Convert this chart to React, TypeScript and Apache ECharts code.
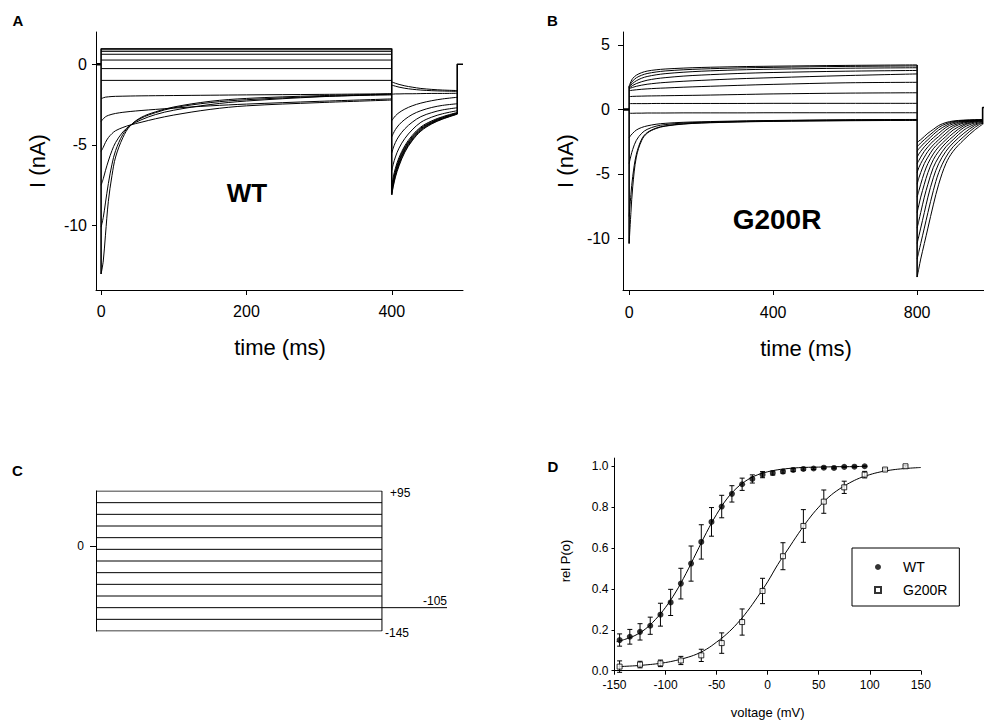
import { useEffect, useRef } from "react";
import * as echarts from "echarts";

const FONT = "'Liberation Sans', Arial, Helvetica, sans-serif";

// ---------- Panel A (WT currents) ----------
const wtVoltages = [95, 75, 55, 35, 15, -5, -25, -45, -65, -85, -105, -125, -145];
const wtFlatLevels = [0.97, 0.9, 0.8, 0.62, 0.26, -0.27, -1.0]; // +95 ... -25 mV
const wtStepTimes = [0, 3, 6, 10, 15, 20, 30, 40, 55, 75, 100, 150, 200, 300, 400];
const wtStepM45 = [-2.15, -2.08, -2.04, -2.02, -2.0, -1.99, -1.98, -1.97, -1.96, -1.95, -1.94, -1.92, -1.9, -1.87, -1.83];
const wtStepM65 = [-3.55, -3.38, -3.26, -3.17, -3.1, -3.05, -2.98, -2.93, -2.87, -2.8, -2.72, -2.58, -2.47, -2.3, -2.15];
const wtStepM85 = [-5.4, -5.15, -4.85, -4.55, -4.3, -4.12, -3.92, -3.77, -3.6, -3.38, -3.15, -2.8, -2.58, -2.38, -2.22];
const wtStepM105 = [-7.5, -7.1, -6.6, -6.0, -5.35, -4.85, -4.2, -3.8, -3.45, -3.12, -2.85, -2.5, -2.28, -2.02, -1.85];
const wtStepM125 = [-10.1, -9.5, -8.6, -7.4, -6.2, -5.35, -4.35, -3.8, -3.35, -3.0, -2.7, -2.38, -2.2, -2.0, -1.9];
const wtStepM145 = [-13.0, -12.2, -10.6, -8.5, -6.9, -5.75, -4.55, -3.82, -3.3, -2.95, -2.65, -2.3, -2.12, -1.95, -1.85];

const wtTailTimes = [400, 402, 405, 410, 418, 428, 440, 455, 470, 490];
const wtTailP95 = [-8.1, -7.6, -7.0, -6.3, -5.45, -4.75, -4.15, -3.7, -3.4, -3.1];
const wtTailP75 = [-8.0, -7.5, -6.9, -6.2, -5.38, -4.7, -4.1, -3.67, -3.38, -3.08];
const wtTailP55 = [-7.9, -7.4, -6.8, -6.1, -5.3, -4.63, -4.05, -3.63, -3.35, -3.06];
const wtTailP35 = [-7.8, -7.3, -6.7, -6.0, -5.22, -4.56, -4.0, -3.6, -3.32, -3.04];
const wtTailP15 = [-7.7, -7.2, -6.6, -5.9, -5.14, -4.5, -3.95, -3.56, -3.29, -3.02];
const wtTailM5 = [-7.5, -7.0, -6.45, -5.78, -5.05, -4.42, -3.89, -3.51, -3.25, -2.99];
const wtTailM25 = [-6.6, -6.2, -5.75, -5.2, -4.6, -4.07, -3.6, -3.28, -3.07, -2.88];
const wtTailM45 = [-5.5, -5.2, -4.85, -4.45, -4.0, -3.6, -3.25, -3.0, -2.83, -2.7];
const wtTailM65 = [-4.5, -4.3, -4.05, -3.75, -3.42, -3.12, -2.88, -2.68, -2.55, -2.45];
const wtTailM85 = [-3.5, -3.37, -3.2, -3.0, -2.78, -2.58, -2.41, -2.26, -2.15, -2.05];
const wtTailM105 = [-1.85, -1.85, -1.84, -1.84, -1.83, -1.83, -1.82, -1.81, -1.81, -1.8];
const wtTailM125 = [-1.3, -1.32, -1.36, -1.42, -1.49, -1.55, -1.6, -1.64, -1.66, -1.68];
const wtTailM145 = [-1.1, -1.13, -1.18, -1.25, -1.34, -1.42, -1.5, -1.56, -1.6, -1.63];
const wtTailEnd = 490; // return to holding (ms)

// ---------- Panel B (G200R currents) ----------
const mutStepTimes = [0, 5, 10, 20, 35, 50, 75, 100, 150, 200, 300, 400, 600, 800];
const mutStepP95 = [1.8, 2.15, 2.4, 2.65, 2.85, 2.97, 3.07, 3.13, 3.2, 3.25, 3.31, 3.35, 3.41, 3.45];
const mutStepP75 = [1.75, 2.0, 2.2, 2.45, 2.65, 2.78, 2.9, 2.98, 3.07, 3.13, 3.21, 3.26, 3.33, 3.37];
const mutStepP55 = [1.7, 1.88, 2.02, 2.22, 2.42, 2.55, 2.68, 2.77, 2.88, 2.96, 3.06, 3.12, 3.19, 3.23];
const mutStepP35 = [1.65, 1.76, 1.86, 2.0, 2.15, 2.26, 2.38, 2.46, 2.58, 2.66, 2.78, 2.86, 2.96, 3.02];
const mutStepP15 = [1.6, 1.66, 1.71, 1.79, 1.88, 1.95, 2.03, 2.09, 2.18, 2.25, 2.37, 2.46, 2.62, 2.75];
const mutStepM5 = [1.45, 1.47, 1.49, 1.52, 1.56, 1.59, 1.63, 1.66, 1.72, 1.77, 1.86, 1.94, 2.06, 2.1];
const mutStepM25 = [1.0, 1.0, 1.01, 1.02, 1.03, 1.04, 1.05, 1.06, 1.08, 1.1, 1.15, 1.2, 1.26, 1.29];
const mutStepM45 = [0.45, 0.45, 0.45, 0.45, 0.45, 0.45, 0.46, 0.46, 0.46, 0.46, 0.46, 0.47, 0.47, 0.47];
const mutStepM65 = [-0.3, -0.3, -0.3, -0.29, -0.29, -0.28, -0.28, -0.28, -0.27, -0.27, -0.27, -0.26, -0.26, -0.26];
const mutStepM85 = [-2.2, -2.0, -1.85, -1.6, -1.4, -1.28, -1.15, -1.08, -1.0, -0.96, -0.9, -0.86, -0.8, -0.78];
const mutStepM105 = [-4.2, -3.6, -3.1, -2.4, -1.85, -1.55, -1.3, -1.18, -1.06, -1.0, -0.93, -0.88, -0.83, -0.8];
const mutStepM125 = [-8.3, -6.6, -5.2, -3.5, -2.3, -1.8, -1.45, -1.28, -1.12, -1.04, -0.96, -0.91, -0.86, -0.83];
const mutStepM145 = [-10.4, -8.0, -6.0, -3.7, -2.4, -1.85, -1.48, -1.3, -1.14, -1.06, -0.98, -0.93, -0.88, -0.85];

const mutTailTimes = [800, 805, 810, 820, 830, 845, 860, 880, 900, 930, 960, 982];
const mutTailP95 = [-13.0, -12.3, -11.6, -10.4, -9.2, -7.4, -5.8, -4.2, -3.25, -2.35, -1.6, -1.15];
const mutTailP75 = [-11.6, -11.0, -10.4, -9.2, -8.0, -6.3, -4.9, -3.7, -2.9, -2.1, -1.4, -1.05];
const mutTailP55 = [-10.4, -9.8, -9.2, -8.0, -6.8, -5.3, -4.2, -3.25, -2.6, -1.85, -1.25, -1.0];
const mutTailP35 = [-9.2, -8.6, -8.0, -6.8, -5.8, -4.5, -3.7, -2.9, -2.35, -1.6, -1.15, -0.95];
const mutTailP15 = [-8.0, -7.4, -6.8, -5.8, -4.9, -3.9, -3.25, -2.6, -2.1, -1.4, -1.05, -0.92];
const mutTailM5 = [-6.8, -6.3, -5.8, -4.9, -4.2, -3.45, -2.9, -2.35, -1.85, -1.25, -0.98, -0.9];
const mutTailM25 = [-5.8, -5.3, -4.9, -4.2, -3.7, -3.05, -2.6, -2.1, -1.6, -1.15, -0.93, -0.88];
const mutTailM45 = [-4.9, -4.5, -4.2, -3.7, -3.25, -2.75, -2.35, -1.85, -1.4, -1.05, -0.9, -0.86];
const mutTailM65 = [-4.2, -3.95, -3.7, -3.25, -2.9, -2.45, -2.1, -1.6, -1.25, -0.98, -0.88, -0.84];
const mutTailM85 = [-3.7, -3.45, -3.25, -2.9, -2.6, -2.2, -1.85, -1.4, -1.12, -0.93, -0.86, -0.82];
const mutTailM105 = [-3.25, -3.05, -2.9, -2.6, -2.35, -1.95, -1.6, -1.25, -1.02, -0.9, -0.84, -0.8];
const mutTailM125 = [-2.9, -2.75, -2.6, -2.35, -2.1, -1.75, -1.4, -1.12, -0.95, -0.86, -0.82, -0.79];
const mutTailM145 = [-2.6, -2.45, -2.35, -2.1, -1.85, -1.55, -1.25, -1.02, -0.9, -0.83, -0.8, -0.78];
const mutTailEnd = 982;

// ---------- Panel C (voltage protocol) ----------
const protoLevels = [95, 75, 55, 35, 15, -5, -25, -45, -65, -85, -105, -125, -145];
const protoStepEnd = 400;
const protoTailLevel = -105;
const protoTailEnd = 491;

// ---------- Panel D (activation curves) ----------
const wtV = [-145, -135, -125, -115, -105, -95, -85, -75, -65, -55, -45, -35, -25, -15, -5, 5, 15, 25, 35, 45, 55, 65, 75, 85, 95];
const wtP = [0.15, 0.166, 0.19, 0.22, 0.274, 0.334, 0.426, 0.524, 0.63, 0.728, 0.803, 0.865, 0.912, 0.938, 0.959, 0.967, 0.974, 0.982, 0.987, 0.989, 0.993, 0.992, 0.997, 0.998, 1.0];
const wtErr = [0.03, 0.036, 0.04, 0.042, 0.056, 0.064, 0.075, 0.086, 0.084, 0.07, 0.055, 0.04, 0.03, 0.02, 0.015, 0.01, 0.008, 0.008, 0.006, 0.005, 0.004, 0.004, 0.003, 0.003, 0.002];
const mutV = [-145, -125, -105, -85, -65, -45, -25, -5, 15, 35, 55, 75, 95, 115, 135];
const mutP = [0.02, 0.03, 0.036, 0.05, 0.075, 0.135, 0.238, 0.39, 0.56, 0.708, 0.827, 0.897, 0.959, 0.984, 1.0];
const mutErr = [0.028, 0.016, 0.016, 0.02, 0.03, 0.05, 0.064, 0.062, 0.066, 0.08, 0.057, 0.03, 0.016, 0.005, 0.004];
const wtFitV = [-148, -140, -130, -120, -110, -100, -90, -80, -70, -60, -50, -40, -30, -20, -10, 0, 10, 20, 30, 40, 50, 60, 70, 80, 90, 96];
const wtFitP = [0.142, 0.153, 0.172, 0.203, 0.25, 0.31, 0.385, 0.475, 0.575, 0.675, 0.765, 0.84, 0.895, 0.933, 0.958, 0.973, 0.983, 0.989, 0.993, 0.995, 0.996, 0.997, 0.998, 0.998, 0.999, 0.999];
const mutFitV = [-146, -130, -120, -110, -100, -90, -80, -70, -60, -50, -40, -30, -20, -10, 0, 10, 20, 30, 40, 50, 60, 70, 80, 90, 100, 110, 120, 130, 140, 150];
const mutFitP = [0.02, 0.024, 0.028, 0.033, 0.04, 0.05, 0.063, 0.08, 0.105, 0.14, 0.18, 0.23, 0.29, 0.36, 0.435, 0.52, 0.595, 0.67, 0.74, 0.8, 0.85, 0.888, 0.918, 0.942, 0.959, 0.972, 0.981, 0.987, 0.991, 0.994];

const zip = (xs: number[], ys: number[]) => xs.map((x, i) => [x, ys[i]]);

export default function App() {
  const ref = useRef<HTMLDivElement>(null);
  useEffect(() => {
    if (!ref.current) return;
    const chart = echarts.init(ref.current, undefined, { renderer: "svg" });

    const traceStyle = { color: "#000", width: 1 };
    const series: any[] = [];

    // ---- Panel A series ----
    const wtStepLists = [wtStepM45, wtStepM65, wtStepM85, wtStepM105, wtStepM125, wtStepM145];
    const wtTailLists = [wtTailP95, wtTailP75, wtTailP55, wtTailP35, wtTailP15, wtTailM5, wtTailM25, wtTailM45, wtTailM65, wtTailM85, wtTailM105, wtTailM125, wtTailM145];
    const wtStarts: number[] = [];
    const wtEnds: number[] = [];
    wtFlatLevels.forEach((lv) => {
      wtStarts.push(lv);
      wtEnds.push(lv);
      series.push({ type: "line", xAxisIndex: 0, yAxisIndex: 0, data: [[0, lv], [400, lv]], showSymbol: false, lineStyle: traceStyle, silent: true });
    });
    wtStepLists.forEach((vals) => {
      wtStarts.push(vals[0]);
      wtEnds.push(vals[vals.length - 1]);
      series.push({ type: "line", xAxisIndex: 0, yAxisIndex: 0, data: zip(wtStepTimes, vals), smooth: 0.35, showSymbol: false, lineStyle: traceStyle, silent: true });
    });
    const wtTailStarts: number[] = [];
    const wtTailEnds: number[] = [];
    wtTailLists.forEach((vals) => {
      wtTailStarts.push(vals[0]);
      wtTailEnds.push(vals[vals.length - 1]);
      series.push({ type: "line", xAxisIndex: 0, yAxisIndex: 0, data: zip(wtTailTimes, vals), smooth: 0.35, showSymbol: false, lineStyle: traceStyle, silent: true });
    });
    // holding + jumps
    series.push({ type: "line", xAxisIndex: 0, yAxisIndex: 0, data: [[-7, 0], [0, 0]], showSymbol: false, lineStyle: { color: "#000", width: 2.5 }, silent: true });
    series.push({ type: "line", xAxisIndex: 0, yAxisIndex: 0, data: [[0, Math.max(...wtStarts, 0)], [0, Math.min(...wtStarts)]], showSymbol: false, lineStyle: { color: "#000", width: 1.6 }, silent: true });
    series.push({ type: "line", xAxisIndex: 0, yAxisIndex: 0, data: [[400, Math.max(...wtEnds)], [400, Math.min(...wtTailStarts)]], showSymbol: false, lineStyle: { color: "#000", width: 1.6 }, silent: true });
    series.push({ type: "line", xAxisIndex: 0, yAxisIndex: 0, data: [[wtTailEnd, Math.min(...wtTailEnds)], [wtTailEnd, 0], [498, 0]], showSymbol: false, lineStyle: { color: "#000", width: 1.6 }, silent: true });

    // ---- Panel B series ----
    const mutStepLists = [mutStepP95, mutStepP75, mutStepP55, mutStepP35, mutStepP15, mutStepM5, mutStepM25, mutStepM45, mutStepM65, mutStepM85, mutStepM105, mutStepM125, mutStepM145];
    const mutTailLists = [mutTailP95, mutTailP75, mutTailP55, mutTailP35, mutTailP15, mutTailM5, mutTailM25, mutTailM45, mutTailM65, mutTailM85, mutTailM105, mutTailM125, mutTailM145];
    const mStarts: number[] = [];
    const mEnds: number[] = [];
    mutStepLists.forEach((vals) => {
      mStarts.push(vals[0]);
      mEnds.push(vals[vals.length - 1]);
      series.push({ type: "line", xAxisIndex: 1, yAxisIndex: 1, data: zip(mutStepTimes, vals), smooth: 0.35, showSymbol: false, lineStyle: traceStyle, silent: true });
    });
    const mTailStarts: number[] = [];
    const mTailEnds: number[] = [];
    mutTailLists.forEach((vals) => {
      mTailStarts.push(vals[0]);
      mTailEnds.push(vals[vals.length - 1]);
      series.push({ type: "line", xAxisIndex: 1, yAxisIndex: 1, data: zip(mutTailTimes, vals), smooth: 0.35, showSymbol: false, lineStyle: traceStyle, silent: true });
    });
    series.push({ type: "line", xAxisIndex: 1, yAxisIndex: 1, data: [[-17, 0], [0, 0]], showSymbol: false, lineStyle: { color: "#000", width: 2.5 }, silent: true });
    series.push({ type: "line", xAxisIndex: 1, yAxisIndex: 1, data: [[0, Math.max(...mStarts)], [0, Math.min(...mStarts)]], showSymbol: false, lineStyle: { color: "#000", width: 1.6 }, silent: true });
    series.push({ type: "line", xAxisIndex: 1, yAxisIndex: 1, data: [[800, Math.max(...mEnds)], [800, Math.min(...mTailStarts)]], showSymbol: false, lineStyle: { color: "#000", width: 1.6 }, silent: true });
    series.push({ type: "line", xAxisIndex: 1, yAxisIndex: 1, data: [[mutTailEnd, Math.min(...mTailEnds)], [mutTailEnd, 0.15], [986, 0.15]], showSymbol: false, lineStyle: { color: "#000", width: 1.6 }, silent: true });

    // ---- Panel C series ----
    protoLevels.forEach((lv) => {
      series.push({ type: "line", xAxisIndex: 2, yAxisIndex: 2, data: [[0, lv], [protoStepEnd, lv]], showSymbol: false, lineStyle: { color: "#000", width: 1 }, silent: true });
    });
    series.push({ type: "line", xAxisIndex: 2, yAxisIndex: 2, data: [[protoStepEnd, Math.max(...protoLevels)], [protoStepEnd, Math.min(...protoLevels)]], showSymbol: false, lineStyle: { color: "#000", width: 1 }, silent: true });
    series.push({ type: "line", xAxisIndex: 2, yAxisIndex: 2, data: [[protoStepEnd, protoTailLevel], [protoTailEnd, protoTailLevel]], showSymbol: false, lineStyle: { color: "#000", width: 1 }, silent: true });

    // ---- Panel D series ----
    const errRender = (params: any, api: any) => {
      const x = api.value(0);
      const y = api.value(1);
      const e = api.value(2);
      const top = api.coord([x, y + e]);
      const bot = api.coord([x, y - e]);
      const hw = 2.5;
      const st = { stroke: "#000", lineWidth: 1 };
      return {
        type: "group",
        children: [
          { type: "line", shape: { x1: top[0], y1: top[1], x2: bot[0], y2: bot[1] }, style: st },
          { type: "line", shape: { x1: top[0] - hw, y1: top[1], x2: top[0] + hw, y2: top[1] }, style: st },
          { type: "line", shape: { x1: bot[0] - hw, y1: bot[1], x2: bot[0] + hw, y2: bot[1] }, style: st },
        ],
      };
    };
    const squareIcon = "path://M0,0L10,0L10,10L0,10Z";
    series.push({ name: "WT fit", type: "line", xAxisIndex: 3, yAxisIndex: 3, data: zip(wtFitV, wtFitP), smooth: 0.4, showSymbol: false, lineStyle: { color: "#000", width: 1 }, silent: true, z: 2 });
    series.push({ name: "G200R fit", type: "line", xAxisIndex: 3, yAxisIndex: 3, data: zip(mutFitV, mutFitP), smooth: 0.4, showSymbol: false, lineStyle: { color: "#000", width: 1 }, silent: true, z: 2 });
    series.push({ name: "WT err", type: "custom", xAxisIndex: 3, yAxisIndex: 3, renderItem: errRender, data: wtV.map((v, i) => [v, wtP[i], wtErr[i]]), encode: { x: 0, y: 1 }, silent: true, z: 3 });
    series.push({ name: "G200R err", type: "custom", xAxisIndex: 3, yAxisIndex: 3, renderItem: errRender, data: mutV.map((v, i) => [v, mutP[i], mutErr[i]]), encode: { x: 0, y: 1 }, silent: true, z: 3 });
    series.push({ name: "WT", type: "scatter", xAxisIndex: 3, yAxisIndex: 3, data: zip(wtV, wtP), symbol: "circle", symbolSize: 6, itemStyle: { color: "#000" }, silent: true, z: 4 });
    series.push({ name: "G200R", type: "scatter", xAxisIndex: 3, yAxisIndex: 3, data: zip(mutV, mutP), symbol: squareIcon, symbolSize: 5, itemStyle: { color: "#fff", borderColor: "#000", borderWidth: 1 }, silent: true, z: 4 });

    const axisLineBlack = { show: true, lineStyle: { color: "#000", width: 1 } };
    const label16 = { fontSize: 16, color: "#000", fontFamily: FONT };
    const label12 = { fontSize: 12, color: "#000", fontFamily: FONT };

    const text = (t: string, x: number, y: number, size: number, bold = false, rot = 0) => ({
      type: "text",
      x,
      y,
      rotation: rot,
      silent: true,
      style: { text: t, fontSize: size, fontFamily: FONT, fontWeight: bold ? "bold" : "normal", fill: "#000", align: "center", verticalAlign: "middle" },
    });

    chart.setOption({
      animation: false,
      backgroundColor: "#fff",
      grid: [
        { left: 96, top: 32, width: 367, height: 258 },
        { left: 623, top: 32, width: 361, height: 258 },
        { left: 96, top: 491, width: 351, height: 140 },
        { left: 614.5, top: 458.1, width: 306.3, height: 212.6 },
      ],
      xAxis: [
        { gridIndex: 0, type: "value", min: -7, max: 498, axisLine: { ...axisLineBlack, onZero: false }, axisTick: { show: true, length: 5, customValues: [0, 200, 400], lineStyle: { color: "#000" } }, axisLabel: { ...label16, margin: 13, customValues: [0, 200, 400] }, splitLine: { show: false } },
        { gridIndex: 1, type: "value", min: -17, max: 985.8, axisLine: { ...axisLineBlack, onZero: false }, axisTick: { show: true, length: 5, customValues: [0, 400, 800], lineStyle: { color: "#000" } }, axisLabel: { ...label16, margin: 14, customValues: [0, 400, 800] }, splitLine: { show: false } },
        { gridIndex: 2, type: "value", min: 0, max: 491, show: false },
        { gridIndex: 3, type: "value", min: -150, max: 150, interval: 50, axisLine: { ...axisLineBlack, onZero: false }, axisTick: { show: true, length: 4, lineStyle: { color: "#000" } }, axisLabel: { ...label12, margin: 8 }, splitLine: { show: false } },
      ],
      yAxis: [
        { gridIndex: 0, type: "value", min: -14, max: 2, axisLine: { ...axisLineBlack, onZero: false }, axisTick: { show: true, length: 4, customValues: [-10, -5, 0], lineStyle: { color: "#000" } }, axisLabel: { ...label16, margin: 9, customValues: [-10, -5, 0] }, splitLine: { show: false } },
        { gridIndex: 1, type: "value", min: -14, max: 6, axisLine: { ...axisLineBlack, onZero: false }, axisTick: { show: true, length: 5, customValues: [-10, -5, 0, 5], lineStyle: { color: "#000" } }, axisLabel: { ...label16, margin: 13, customValues: [-10, -5, 0, 5] }, splitLine: { show: false } },
        { gridIndex: 2, type: "value", min: -145, max: 95, axisLine: { ...axisLineBlack, onZero: false }, axisTick: { show: true, length: 6, customValues: [0], lineStyle: { color: "#000" } }, axisLabel: { ...label12, margin: 12, customValues: [0] }, splitLine: { show: false } },
        { gridIndex: 3, type: "value", min: 0, max: 1.04, axisLine: { ...axisLineBlack, onZero: false }, axisTick: { show: true, length: 3, customValues: [0, 0.2, 0.4, 0.6, 0.8, 1.0], lineStyle: { color: "#000" } }, axisLabel: { ...label12, margin: 6, customValues: [0, 0.2, 0.4, 0.6, 0.8, 1.0], formatter: (v: number) => v.toFixed(1) }, splitLine: { show: false } },
      ],
      legend: {
        data: [
          { name: "WT", icon: "circle" },
          { name: "G200R", icon: squareIcon },
        ],
        orient: "vertical",
        left: 852,
        top: 548,
        padding: [12, 12, 9, 22],
        itemGap: 9,
        itemWidth: 40,
        itemHeight: 6,
        symbolKeepAspect: true,
        borderColor: "#000",
        borderWidth: 1,
        borderRadius: 0,
        textStyle: { fontSize: 14, color: "#000", fontFamily: FONT },
        selectedMode: false,
      },
      graphic: [
        text("A", 18, 20, 15, true),
        text("B", 552.5, 20, 15, true),
        text("C", 17.5, 470, 15, true),
        text("D", 553, 466, 15, true),
        text("I (nA)", 37, 161, 22, false, Math.PI / 2),
        text("time (ms)", 280, 347.5, 22),
        text("I (nA)", 565, 161, 22, false, Math.PI / 2),
        text("time (ms)", 806, 348, 22),
        text("WT", 247, 193, 26, true),
        text("G200R", 777, 219.5, 28, true),
        text("rel P(o)", 565, 561, 13, false, Math.PI / 2),
        text("voltage (mV)", 767.7, 712.7, 13),
        { type: "text", x: 390, y: 493, silent: true, style: { text: "+95", fontSize: 12, fontFamily: FONT, fill: "#000", align: "left", verticalAlign: "middle" } },
        { type: "text", x: 447, y: 600.5, silent: true, style: { text: "-105", fontSize: 12, fontFamily: FONT, fill: "#000", align: "right", verticalAlign: "middle" } },
        { type: "text", x: 385, y: 633, silent: true, style: { text: "-145", fontSize: 12, fontFamily: FONT, fill: "#000", align: "left", verticalAlign: "middle" } },
      ],
      series,
    });
    return () => chart.dispose();
  }, []);
  return <div ref={ref} style={{ position: "absolute", left: 0, top: 0, width: 984, height: 723 }} />;
}
